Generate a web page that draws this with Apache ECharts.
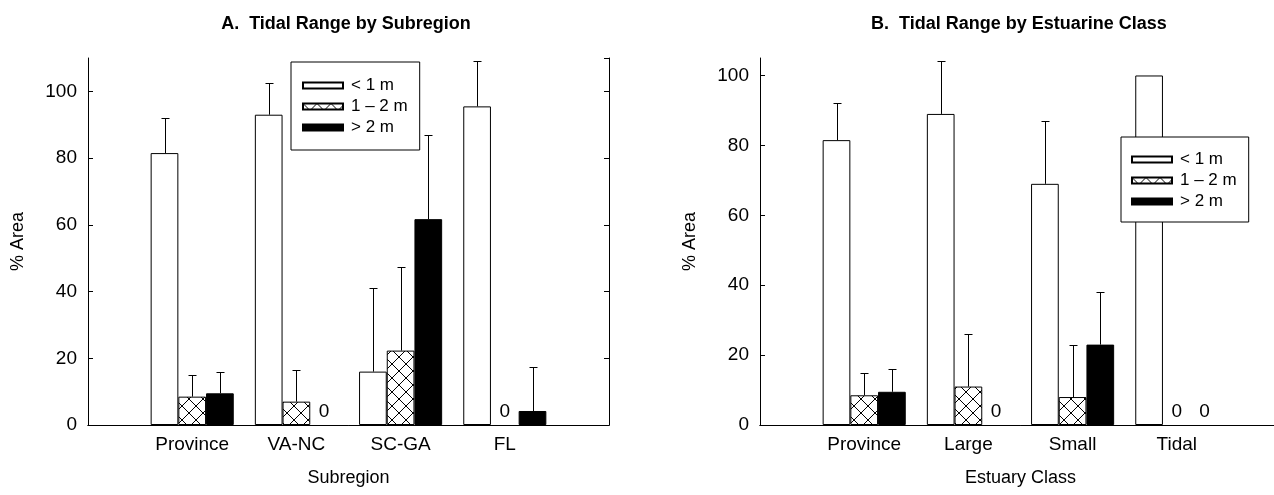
<!DOCTYPE html>
<html>
<head>
<meta charset="utf-8">
<script src="https://cdn.jsdelivr.net/npm/echarts@6/dist/echarts.min.js"></script>
<style>
  html, body { margin: 0; padding: 0; background: #fff; overflow: hidden; }
  /* the right panel runs a few px past the window edge, as in the original */
  #chart { width: 1290px; height: 495px; }
</style>
</head>
<body>
<div id="chart"></div>
<script>
const rangeNames = ['< 1 m', '1 – 2 m', '> 2 m'];

// A. by subregion (bar value, top of error bar)
const subregions = ['Province', 'VA-NC', 'SC-GA', 'FL'];
const subLow = [81.5, 93, 16, 95.5];
const subLowHi = [92, 102.5, 41, 109];
const subMid = [8.5, 7, 22.3, 0];
const subMidHi = [15, 16.5, 47.5, null];
const subHigh = [9.5, 0, 61.7, 4.2];
const subHighHi = [16, null, 87, 17.3];

// B. by estuarine class
const classes = ['Province', 'Large', 'Small', 'Tidal'];
const clsLow = [81.5, 89, 69, 100];
const clsLowHi = [92, 104, 87, null];
const clsMid = [8.5, 11, 8, 0];
const clsMidHi = [15, 26, 23, null];
const clsHigh = [9.5, 0, 23, 0];
const clsHighHi = [16, null, 38, null];

const yTicks = [0, 20, 40, 60, 80, 100];

const FONT = '"Liberation Sans", Arial, sans-serif';
const BAR_W = 27.7;

function hatch() {
  const s = 14;
  const c = document.createElement('canvas');
  c.width = s; c.height = s;
  const g = c.getContext('2d');
  g.fillStyle = '#fff';
  g.fillRect(0, 0, s, s);
  g.strokeStyle = '#000';
  g.lineWidth = 1;
  g.beginPath();
  g.moveTo(0, 0); g.lineTo(s, s);
  g.moveTo(s, 0); g.lineTo(0, s);
  g.stroke();
  return c;
}
const fills = ['#fff', { image: hatch(), repeat: 'repeat' }, '#000'];

// empty slot before and after the groups
const padCats = arr => [''].concat(arr, ['']);
const padVals = arr => ['-'].concat(arr.map(v => (v === 0 ? { value: 0, itemStyle: { borderWidth: 0 } } : v)), ['-']);

function barSeries(gi, lists) {
  return lists.map((vals, r) => ({
    name: rangeNames[r],
    type: 'bar',
    xAxisIndex: gi * 2,
    yAxisIndex: gi * 2,
    barWidth: BAR_W,
    barGap: 0,
    itemStyle: { color: fills[r], borderColor: '#000', borderWidth: 1 },
    label: {
      show: true, position: 'top', distance: 4,
      color: '#000', fontFamily: FONT, fontSize: 19,
      formatter: p => (p.value === 0 ? '0' : '')
    },
    emphasis: { disabled: true },
    data: padVals(vals)
  }));
}

function whiskerSeries(gi, lists, his) {
  const data = [];
  lists.forEach((vals, r) => {
    vals.forEach((v, i) => {
      if (his[r][i] != null) data.push([i + 1, v, his[r][i], r]);
    });
  });
  return {
    type: 'custom',
    name: 'err' + gi,
    xAxisIndex: gi * 2,
    yAxisIndex: gi * 2,
    z: 5,
    silent: true,
    encode: { x: 0, y: 1 },
    renderItem: (params, api) => {
      const base = api.coord([api.value(0), api.value(1)]);
      const top = api.coord([api.value(0), api.value(2)]);
      const x = Math.round(base[0] + (api.value(3) - 1) * BAR_W) + 0.5;
      const yt = Math.round(top[1]) + 0.5;
      const st = { stroke: '#000', lineWidth: 1 };
      return {
        type: 'group',
        children: [
          { type: 'line', shape: { x1: x, y1: base[1], x2: x, y2: yt }, style: st },
          { type: 'line', shape: { x1: x - 4, y1: yt, x2: x + 4, y2: yt }, style: st }
        ]
      };
    },
    data: data
  };
}

const gridLeft = [88, 760];
const yMax = [110, 105];
const xNames = ['Subregion', 'Estuary Class'];
const cats = [subregions, classes];

const xAxes = [];
const yAxes = [];
[0, 1].forEach(gi => {
  xAxes.push({
    type: 'category', gridIndex: gi, data: padCats(cats[gi]), boundaryGap: false,
    name: xNames[gi], nameLocation: 'middle', nameGap: 44,
    nameTextStyle: { color: '#000', fontFamily: FONT, fontSize: 18 },
    axisLine: { lineStyle: { color: '#000', width: 1 } },
    axisTick: { show: false },
    axisLabel: { color: '#000', fontFamily: FONT, fontSize: 19, margin: 10, interval: 0 },
    splitLine: { show: false }
  });
  xAxes.push({
    type: 'category', gridIndex: gi, position: 'top', data: padCats(cats[gi]), boundaryGap: false,
    axisLine: { lineStyle: { color: '#000', width: 1 } },
    axisTick: { show: false }, axisLabel: { show: false }, splitLine: { show: false }
  });
  yAxes.push({
    type: 'value', gridIndex: gi, min: 0, max: yMax[gi], interval: 20,
    name: '% Area', nameLocation: 'middle', nameGap: 61,
    nameTextStyle: { color: '#000', fontFamily: FONT, fontSize: 18 },
    axisLine: { show: true, lineStyle: { color: '#000', width: 1 } },
    axisTick: { show: true, inside: true, length: 5, lineStyle: { color: '#000' } },
    axisLabel: { color: '#000', fontFamily: FONT, fontSize: 19, margin: 11, showMaxLabel: false,
      formatter: v => (yTicks.indexOf(v) >= 0 ? String(v) : '') },
    splitLine: { show: false }
  });
  yAxes.push({
    type: 'value', gridIndex: gi, position: 'right', min: 0, max: yMax[gi], interval: 20,
    axisLine: { show: true, lineStyle: { color: '#000', width: 1 } },
    axisTick: { show: true, inside: true, length: 5, lineStyle: { color: '#000' } },
    axisLabel: { show: false },
    splitLine: { show: false }
  });
});

const legendBase = {
  data: rangeNames,
  orient: 'vertical',
  itemWidth: 40,
  itemHeight: 6,
  itemGap: 4,
  icon: 'rect',
  selectedMode: false,
  borderColor: '#000',
  borderWidth: 1,
  backgroundColor: '#fff',
  textStyle: { color: '#000', fontFamily: FONT, fontSize: 17, lineHeight: 17, padding: [0, 0, 0, 3] }
};

const chart = echarts.init(document.getElementById('chart'));
chart.setOption({
  backgroundColor: '#fff',
  animation: false,
  title: [
    { text: 'A.  Tidal Range by Subregion', left: 341, top: 10, textAlign: 'center',
      textStyle: { color: '#000', fontFamily: FONT, fontSize: 18, fontWeight: 'bold' } },
    { text: 'B.  Tidal Range by Estuarine Class', left: 1014, top: 10, textAlign: 'center',
      textStyle: { color: '#000', fontFamily: FONT, fontSize: 18, fontWeight: 'bold' } }
  ],
  legend: [
    Object.assign({}, legendBase, { left: 291, top: 62, padding: [15, 12, 14, 11] }),
    Object.assign({}, legendBase, { left: 1121, top: 137, padding: [14, 12, 12, 10] })
  ],
  grid: [
    { left: gridLeft[0], top: 58, width: 521, height: 367 },
    { left: gridLeft[1], top: 58, width: 521, height: 367 }
  ],
  xAxis: xAxes,
  yAxis: yAxes,
  series: [].concat(
    barSeries(0, [subLow, subMid, subHigh]),
    [whiskerSeries(0, [subLow, subMid, subHigh], [subLowHi, subMidHi, subHighHi])],
    barSeries(1, [clsLow, clsMid, clsHigh]),
    [whiskerSeries(1, [clsLow, clsMid, clsHigh], [clsLowHi, clsMidHi, clsHighHi])]
  )
});
</script>
</body>
</html>
